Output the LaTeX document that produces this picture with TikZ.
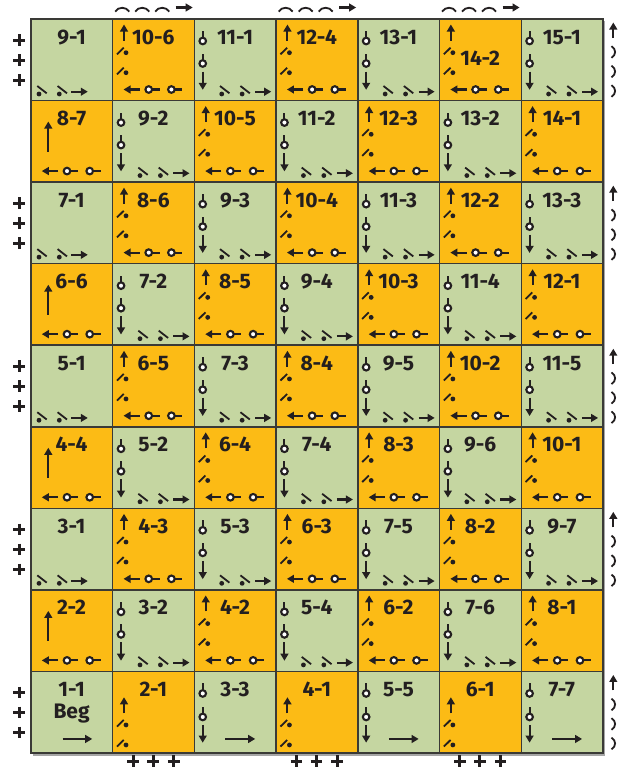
\documentclass[tikz,border=0pt]{standalone}
\usepackage{fontspec}
\setmainfont{Fira Sans}
\usetikzlibrary{arrows.meta}
\definecolor{ink}{HTML}{231F20}
\definecolor{cg}{RGB}{197,214,161}
\definecolor{co}{RGB}{252,187,21}
\definecolor{gridc}{HTML}{3A3A36}
\newcommand\mycell[6]{%
  \pgfmathsetmacro\cellx{31+(#1-1)*81.714}%
  \pgfmathsetmacro\celly{19+(#2-1)*81.556}%
  \node[cellbox,fill=#3] (c#1-#2) at (\cellx,\celly) {};%
  \pic at (\cellx,\celly) {#4};%
  \node[lbl] (l#1-#2) at (\cellx+40.6,\celly+#6) {#5};%
}
\newcommand\myplus[2]{\draw[plusl] (#1-5.8,#2) -- (#1+5.8,#2) (#1,#2-5.8) -- (#1,#2+5.8);}
\newcommand\myarch[2]{\draw[archl] (#1-7,#2+2.3) .. controls (#1-4,#2-2.8) and (#1+4,#2-2.8) .. (#1+7,#2+2.3);}
\newcommand\myparen[2]{\draw[archl] (#1-2,#2-5.8) .. controls (#1+2.8,#2-3) and (#1+2.8,#2+3) .. (#1-2,#2+5.8);}
\tikzset{
  cellbox/.style={draw=gridc,line width=1.5pt,anchor=north west,inner sep=0pt,outer sep=0pt,
    minimum width=81.714pt,minimum height=81.556pt},
  lbl/.style={font=\bfseries\fontsize{21}{21}\selectfont,text=ink,anchor=base,inner sep=0pt},
  sline/.style={line width=2.1pt,draw=ink},
  thinl/.style={line width=1.8pt,draw=ink},
  arr/.style={sline,-{Triangle[length=7pt,width=7.8pt]}},
  plusl/.style={line width=3pt,draw=ink},
  archl/.style={line width=1.8pt,draw=ink},
  stemc/.pic={\draw[sline] (0,-3) -- (0,-10); \draw[sline,fill=white] (0,0) circle[radius=3.3];},
  ocirc/.pic={\draw[sline] (3,0) -- (11,0); \draw[sline,fill=white] (0,0) circle[radius=3.3];},
  slip/.pic={\draw[thinl] (-1.7,-8) -- (7.7,-0.7); \fill[ink] (0,0) circle[radius=2.4];},
  slash/.pic={\draw[thinl] (-9,1.6) -- (-2.3,-5); \fill[ink] (0,0) circle[radius=2.4];},
  gstart/.pic={\pic at (8,75) {slip}; \pic at (28.3,75) {slip}; \draw[arr] (40,72.7) -- (56.8,72.7);},
  gmid/.pic={\pic at (8.3,22) {stemc}; \pic at (8.3,44.5) {stemc}; \draw[arr] (8.3,52.5) -- (8.3,70.8);
    \pic at (27.3,75) {slip}; \pic at (47.7,75) {slip}; \draw[arr] (60.7,72.7) -- (76.8,72.7);},
  obottom/.pic={\draw[arr] (27,70.5) -- (10.8,70.5); \pic at (36,70.5) {ocirc}; \pic at (58.7,70.5) {ocirc};},
  omid/.pic={\draw[arr] (11.3,21.5) -- (11.3,5.5); \pic at (13.3,33.7) {slash}; \pic at (13.3,53.7) {slash}; \pic {obottom};},
  oend/.pic={\draw[arr] (17.3,51) -- (17.3,21); \pic {obottom};},
  ofirst/.pic={\draw[arr] (11.3,42) -- (11.3,25.8); \pic at (13.3,53.5) {slash}; \pic at (13.3,73.5) {slash};},
  gfirst/.pic={\node[lbl] (beg) at (40.6,46.8) {Beg}; \draw[arr] (31.5,67.5) -- (61.2,67.5);},
  glast/.pic={\pic at (8.3,22) {stemc}; \pic at (8.3,45.5) {stemc}; \draw[arr] (8.3,53.5) -- (8.3,71.2);
    \draw[arr] (31,67.5) -- (60.8,67.5);},
}
\begin{document}
\begin{tikzpicture}[x=1pt,y=-1pt]
\useasboundingbox (0,0) rectangle (630,769);
\fill[white] (0,0) rectangle (630,769);
% shadow
\draw[black!35,line width=1.2pt] (33,755) -- (604.6,755) -- (604.6,21);
% row 1
\mycell{1}{1}{cg}{gstart}{9-1}{25}
\mycell{2}{1}{co}{omid}{10-6}{25}
\mycell{3}{1}{cg}{gmid}{11-1}{25}
\mycell{4}{1}{co}{omid}{12-4}{25}
\mycell{5}{1}{cg}{gmid}{13-1}{25}
\mycell{6}{1}{co}{omid}{14-2}{46}
\mycell{7}{1}{cg}{gmid}{15-1}{25}
% row 2
\mycell{1}{2}{co}{oend}{8-7}{25}
\mycell{2}{2}{cg}{gmid}{9-2}{25}
\mycell{3}{2}{co}{omid}{10-5}{25}
\mycell{4}{2}{cg}{gmid}{11-2}{25}
\mycell{5}{2}{co}{omid}{12-3}{25}
\mycell{6}{2}{cg}{gmid}{13-2}{25}
\mycell{7}{2}{co}{omid}{14-1}{25}
% row 3
\mycell{1}{3}{cg}{gstart}{7-1}{25}
\mycell{2}{3}{co}{omid}{8-6}{25}
\mycell{3}{3}{cg}{gmid}{9-3}{25}
\mycell{4}{3}{co}{omid}{10-4}{25}
\mycell{5}{3}{cg}{gmid}{11-3}{25}
\mycell{6}{3}{co}{omid}{12-2}{25}
\mycell{7}{3}{cg}{gmid}{13-3}{25}
% row 4
\mycell{1}{4}{co}{oend}{6-6}{25}
\mycell{2}{4}{cg}{gmid}{7-2}{25}
\mycell{3}{4}{co}{omid}{8-5}{25}
\mycell{4}{4}{cg}{gmid}{9-4}{25}
\mycell{5}{4}{co}{omid}{10-3}{25}
\mycell{6}{4}{cg}{gmid}{11-4}{25}
\mycell{7}{4}{co}{omid}{12-1}{25}
% row 5
\mycell{1}{5}{cg}{gstart}{5-1}{25}
\mycell{2}{5}{co}{omid}{6-5}{25}
\mycell{3}{5}{cg}{gmid}{7-3}{25}
\mycell{4}{5}{co}{omid}{8-4}{25}
\mycell{5}{5}{cg}{gmid}{9-5}{25}
\mycell{6}{5}{co}{omid}{10-2}{25}
\mycell{7}{5}{cg}{gmid}{11-5}{25}
% row 6
\mycell{1}{6}{co}{oend}{4-4}{25}
\mycell{2}{6}{cg}{gmid}{5-2}{25}
\mycell{3}{6}{co}{omid}{6-4}{25}
\mycell{4}{6}{cg}{gmid}{7-4}{25}
\mycell{5}{6}{co}{omid}{8-3}{25}
\mycell{6}{6}{cg}{gmid}{9-6}{25}
\mycell{7}{6}{co}{omid}{10-1}{25}
% row 7
\mycell{1}{7}{cg}{gstart}{3-1}{25}
\mycell{2}{7}{co}{omid}{4-3}{25}
\mycell{3}{7}{cg}{gmid}{5-3}{25}
\mycell{4}{7}{co}{omid}{6-3}{25}
\mycell{5}{7}{cg}{gmid}{7-5}{25}
\mycell{6}{7}{co}{omid}{8-2}{25}
\mycell{7}{7}{cg}{gmid}{9-7}{25}
% row 8
\mycell{1}{8}{co}{oend}{2-2}{25}
\mycell{2}{8}{cg}{gmid}{3-2}{25}
\mycell{3}{8}{co}{omid}{4-2}{25}
\mycell{4}{8}{cg}{gmid}{5-4}{25}
\mycell{5}{8}{co}{omid}{6-2}{25}
\mycell{6}{8}{cg}{gmid}{7-6}{25}
\mycell{7}{8}{co}{omid}{8-1}{25}
% row 9
\mycell{1}{9}{cg}{gfirst}{1-1}{25}
\mycell{2}{9}{co}{ofirst}{2-1}{25}
\mycell{3}{9}{cg}{glast}{3-3}{25}
\mycell{4}{9}{co}{ofirst}{4-1}{25}
\mycell{5}{9}{cg}{glast}{5-5}{25}
\mycell{6}{9}{co}{ofirst}{6-1}{25}
\mycell{7}{9}{cg}{glast}{7-7}{25}
% left plus signs and right-side marks
\foreach \r in {1,3,5,7,9}{
  \pgfmathsetmacro\ry{19+(\r-1)*81.556}
  \myplus{19}{\ry+21}\myplus{19}{\ry+41}\myplus{19}{\ry+61}
  \draw[arr] (613.3,\ry+19) -- (613.3,\ry+3.5);
  \myparen{613.5}{\ry+33}\myparen{613.5}{\ry+52.5}\myparen{613.5}{\ry+72}
}
% top arches and bottom plus signs
\foreach \c in {2,4,6}{
  \pgfmathsetmacro\cxx{31+(\c-1)*81.714}
  \myarch{\cxx+9.5}{9.3}\myarch{\cxx+29.5}{9.3}\myarch{\cxx+49.5}{9.3}
  \draw[arr] (\cxx+63,7.5) -- (\cxx+80,7.5);
  \myplus{\cxx+20.3}{761}\myplus{\cxx+40.3}{761}\myplus{\cxx+61}{761}
}
\end{tikzpicture}
\end{document}
